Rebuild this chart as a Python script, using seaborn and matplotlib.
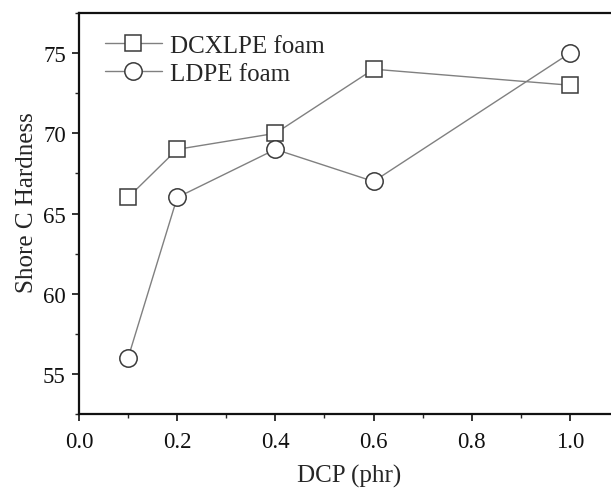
import numpy as np
import pandas as pd
import matplotlib
matplotlib.use("Agg")
import matplotlib.pyplot as plt
import seaborn as sns
from matplotlib.ticker import MultipleLocator

# DCP content (phr) and Shore C hardness
dcp = [0.1, 0.2, 0.4, 0.6, 1.0]
dcxlpe_hardness = [66, 69, 70, 74, 73]
ldpe_hardness = [56, 66, 69, 67, 75]

sns.set_style("ticks")
plt.rcParams['font.family'] = ['Liberation Serif', 'DejaVu Serif']

fig = plt.figure(figsize=(6.11, 4.89), dpi=100)
ax = fig.add_axes([0.1293, 0.1513, 0.8838, 0.820])

line_color = '#808080'
edge_color = '#3a3a3a'

sns.lineplot(x=dcp, y=dcxlpe_hardness, ax=ax, color=line_color, lw=1.0,
             marker='s', markersize=11, markerfacecolor='white',
             markeredgecolor=edge_color, markeredgewidth=1.1, label='DCXLPE foam')
sns.lineplot(x=dcp, y=ldpe_hardness, ax=ax, color=line_color, lw=1.0,
             marker='o', markersize=12.5, markerfacecolor='white',
             markeredgecolor=edge_color, markeredgewidth=1.1, label='LDPE foam')

ax.set_xlim(0, 1.1)
ax.set_ylim(52.5, 77.5)
ax.xaxis.set_major_locator(MultipleLocator(0.2))
ax.xaxis.set_minor_locator(MultipleLocator(0.1))
ax.yaxis.set_major_locator(MultipleLocator(5))
ax.yaxis.set_minor_locator(MultipleLocator(2.5))
ax.set_xticks([0.0, 0.2, 0.4, 0.6, 0.8, 1.0])
ax.set_xticklabels(['0.0', '0.2', '0.4', '0.6', '0.8', '1.0'])

ax.tick_params(which='major', direction='out', length=5, width=1.2, labelsize=16.5,
               colors='#111111', pad=4.5)
ax.tick_params(which='minor', direction='out', length=3, width=1.0)
ax.tick_params(axis='x', which='major', pad=7)
for s in ax.spines.values():
    s.set_linewidth(1.6)
    s.set_color('#111111')

ax.set_xlabel('DCP (phr)', fontsize=18, labelpad=9)
ax.set_ylabel('Shore C Hardness', fontsize=18, labelpad=4)
ax.yaxis.label.set_y(0.53)

leg = ax.legend(loc='upper left', frameon=False, fontsize=18, handlelength=2.3,
                handletextpad=0.3, borderaxespad=0.3, labelspacing=0.2,
                bbox_to_anchor=(0.015, 0.99))

fig.savefig('out.png', dpi=100)
